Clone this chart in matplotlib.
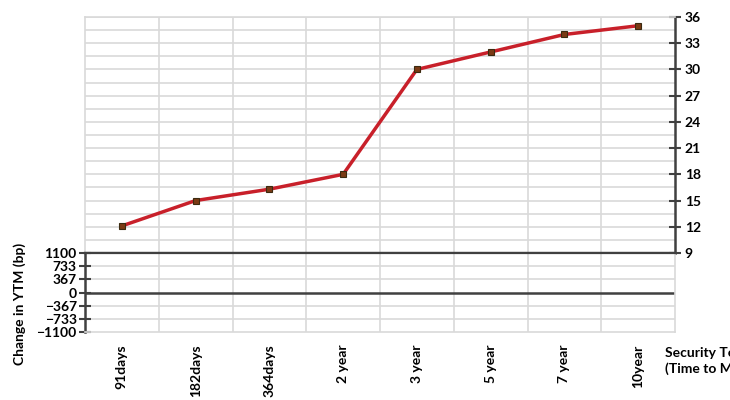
import matplotlib.pyplot as plt
import numpy as np

terms = ['91days', '182days', '364days', '2 year', '3 year', '5 year', '7 year', '10year']
yields = [12.1, 15.0, 16.3, 18.0, 30.0, 32.0, 34.0, 35.0]
change_ticks = [1100, 733, 367, 0, -367, -733, -1100]
yield_ticks = [9, 12, 15, 18, 21, 24, 27, 30, 33, 36]

plt.rcParams['font.family'] = ['Lato', 'DejaVu Sans']
plt.rcParams['font.weight'] = 'bold'
grid_c = '#d9d9d9'
axis_c = '#404040'

fig = plt.figure(figsize=(7.3, 4), dpi=100)
x = np.arange(len(terms))

# top panel: yields, axis on right
top = fig.add_axes([85/730, 1-253/400, 590/730, 236/400])
top.set_xlim(-0.5, len(terms)-0.5)
top.set_ylim(9, 36)
for v in np.arange(9, 36.1, 1.5):
    top.axhline(v, color=grid_c, lw=1.2, zorder=0)
for b in np.arange(0.5, len(terms)-0.5, 1):
    top.axvline(b, color=grid_c, lw=1.2, zorder=0)
top.plot(x, yields, color='#c8202a', lw=2.5, marker='s', ms=5,
         mfc='#7a3a14', mec='#3b2a10', mew=0.8, zorder=3)
top.yaxis.tick_right()
top.set_yticks(yield_ticks)
top.tick_params(axis='y', direction='inout', length=8, width=1.5, color=axis_c,
                labelsize=10, pad=3)
top.set_xticks([])
for s in ['left', 'top']:
    top.spines[s].set_color(grid_c)
    top.spines[s].set_linewidth(1.2)
top.spines['right'].set_color(axis_c)
top.spines['right'].set_linewidth(1.8)
top.spines['bottom'].set_color(axis_c)
top.spines['bottom'].set_linewidth(1.6)

# bottom panel: change in YTM
bot = fig.add_axes([85/730, 1-332/400, 590/730, 79/400])
bot.set_xlim(-0.5, len(terms)-0.5)
bot.set_ylim(-1100, 1100)
for v in change_ticks:
    if v == 0:
        bot.axhline(v, color=axis_c, lw=1.8, zorder=1)
    elif abs(v) != 1100:
        bot.axhline(v, color=grid_c, lw=1.2, zorder=0)
for b in np.arange(0.5, len(terms)-0.5, 1):
    bot.axvline(b, color=grid_c, lw=1.2, zorder=0)
bot.set_yticks(change_ticks)
bot.tick_params(axis='y', direction='inout', length=8, width=1.5, color=axis_c,
                labelsize=10, pad=2)
bot.set_xticks(x)
bot.set_xticklabels(terms, rotation=90, fontsize=10, fontweight='bold')
bot.tick_params(axis='x', length=0, pad=9)
bot.spines['left'].set_color(axis_c)
bot.spines['left'].set_linewidth(1.8)
bot.spines['top'].set_color(axis_c)
bot.spines['top'].set_linewidth(1.6)
for s in ['right', 'bottom']:
    bot.spines[s].set_color(grid_c)
    bot.spines[s].set_linewidth(1.2)

fig.text(20/730, 1-304/400, 'Change in YTM (bp)', rotation=90, ha='center', va='center',
         fontsize=10, fontweight='bold')
fig.text(665/730, 1-361/400, 'Security Term\n(Time to Maturity)', ha='left', va='center',
         fontsize=10, fontweight='bold', linespacing=1.3)

fig.savefig('out.png', dpi=100)
